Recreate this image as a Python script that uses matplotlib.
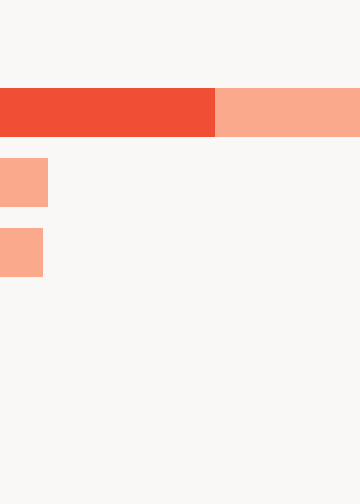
import matplotlib
matplotlib.use("Agg")
import matplotlib.pyplot as plt
import numpy as np

# Werte (Anteil in %)
rows = ["A", "B", "C"]
primary = [59.7, 0.0, 0.0]
secondary = [40.3, 13.3, 11.9]

bg = "#faf8f6"
dark = "#f04f36"
light = "#fba98d"

fig = plt.figure(figsize=(3.6, 5.04), dpi=100, facecolor=bg)
ax = fig.add_axes([0, 0, 1, 1])
ax.set_facecolor(bg)

y = np.arange(len(rows))
ax.barh(y, primary, height=0.7, color=dark, linewidth=0)
ax.barh(y, secondary, left=primary, height=0.7, color=light, linewidth=0)

ax.set_xlim(0, 100)
ax.set_ylim(-1.607 + 504 / 70, -1.607)
ax.axis("off")

fig.savefig("out.png", dpi=100, facecolor=bg)
